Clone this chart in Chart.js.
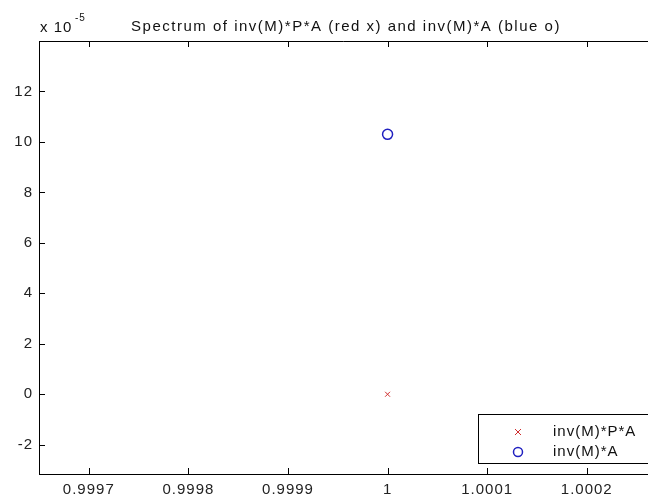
<!DOCTYPE html>
<html><head><meta charset="utf-8">
<script src="https://cdn.jsdelivr.net/npm/chart.js@4/dist/chart.umd.min.js"></script>
<style>html,body{margin:0;padding:0;background:#fff;overflow:hidden;width:648px;height:501px}#wrap{width:655px;height:501px}</style>
</head><body><div id="wrap"><canvas id="c" width="655" height="501"></canvas></div>
<script>
const titleText = "Spectrum of inv(M)*P*A (red x) and inv(M)*A (blue o)";
const seriesNames = ["inv(M)*P*A", "inv(M)*A"];
const redX = [1.0];
const redY = [0.0];
const blueX = [1.0];
const blueY = [10.3];
const xTicks = [0.9997, 0.9998, 0.9999, 1.0, 1.0001, 1.0002];
const xTickLabels = ["0.9997", "0.9998", "0.9999", "1", "1.0001", "1.0002"];
const yTicks = [-2, 0, 2, 4, 6, 8, 10, 12];
const yTickLabels = ["-2", "0", "2", "4", "6", "8", "10", "12"];
const expLabel = ["x 10", "-5"];

const FONT = "Liberation Sans, Arial, sans-serif";
const RED = "#d03030", BLUE = "#2020c0";

const deco = {
  id: 'deco',
  beforeDraw(chart) { chart.ctx.letterSpacing = '1px'; },
  afterDraw(chart) {
    const ctx = chart.ctx, a = chart.chartArea;
    const xs = chart.scales.x, ys = chart.scales.y;
    ctx.save();
    ctx.strokeStyle = '#000'; ctx.lineWidth = 1;
    ctx.beginPath(); ctx.moveTo(a.left, a.top + 0.5); ctx.lineTo(a.right, a.top + 0.5); ctx.stroke();
    ctx.beginPath();
    xTicks.forEach(v => { const p = Math.round(xs.getPixelForValue(v)) + 0.5;
      ctx.moveTo(p, a.bottom); ctx.lineTo(p, a.bottom - 6);
      ctx.moveTo(p, a.top); ctx.lineTo(p, a.top + 6); });
    yTicks.forEach(v => { const p = Math.round(ys.getPixelForValue(v)) + 0.5;
      ctx.moveTo(a.left, p); ctx.lineTo(a.left + 6, p); });
    ctx.stroke();
    ctx.fillStyle = '#111'; ctx.font = '15px ' + FONT;
    ctx.letterSpacing = '1.5px';
    ctx.textAlign = 'center'; ctx.textBaseline = 'middle';
    ctx.fillText(titleText, 346, 27);
    ctx.letterSpacing = '1px';
    ctx.textAlign = 'left';
    ctx.fillText(expLabel[0], 40, 28);
    ctx.font = '10px ' + FONT;
    ctx.fillText(expLabel[1], 75, 18);
    const bx = 478, by = 414, bw = 200, bh = 49;
    ctx.fillStyle = '#fff'; ctx.fillRect(bx, by, bw, bh);
    ctx.strokeStyle = '#000'; ctx.strokeRect(bx + 0.5, by + 0.5, bw, bh);
    ctx.font = '15px ' + FONT; ctx.fillStyle = '#111'; ctx.textBaseline = 'middle';
    const rows = [432, 452];
    ctx.strokeStyle = RED; ctx.lineWidth = 1;
    ctx.beginPath(); ctx.moveTo(515, rows[0] - 3); ctx.lineTo(521, rows[0] + 3);
    ctx.moveTo(521, rows[0] - 3); ctx.lineTo(515, rows[0] + 3); ctx.stroke();
    ctx.strokeStyle = BLUE; ctx.lineWidth = 1.5;
    ctx.beginPath(); ctx.arc(518, rows[1], 4.5, 0, Math.PI * 2); ctx.stroke();
    ctx.fillText(seriesNames[0], 553, rows[0]);
    ctx.fillText(seriesNames[1], 553, rows[1]);
    ctx.restore();
    ctx.letterSpacing = '0px';
  }
};

new Chart(document.getElementById('c'), {
  type: 'scatter',
  data: {
    datasets: [
      { label: seriesNames[0], data: redX.map((x, i) => ({x, y: redY[i]})),
        pointStyle: 'crossRot', pointRadius: 3.5, borderColor: RED, borderWidth: 1, backgroundColor: RED },
      { label: seriesNames[1], data: blueX.map((x, i) => ({x, y: blueY[i]})),
        pointStyle: 'circle', pointRadius: 5, borderColor: BLUE, borderWidth: 1.5, backgroundColor: 'rgba(0,0,0,0)' }
    ]
  },
  options: {
    responsive: false, animation: false,
    layout: { padding: { top: 41, right: 0, left: 0, bottom: 0 } },
    plugins: { legend: { display: false }, tooltip: { enabled: false }, title: { display: false } },
    scales: {
      x: {
        type: 'linear', min: 0.99965, max: 1.000262,
        afterBuildTicks: s => { s.ticks = xTicks.map(v => ({value: v})); },
        afterFit: s => { s.height = 27; s.paddingRight = 0; s.paddingLeft = 0; },
        grid: { display: true, drawOnChartArea: false, drawTicks: false },
        border: { display: true, color: '#000', width: 1 },
        ticks: { padding: 7, color: '#222', font: { family: FONT, size: 15 },
          maxRotation: 0, autoSkip: false,
          callback: (v) => { const i = xTicks.indexOf(v); return i >= 0 ? xTickLabels[i] : ''; } }
      },
      y: {
        type: 'linear', min: -3.16, max: 14,
        afterBuildTicks: s => { s.ticks = yTicks.map(v => ({value: v})); },
        afterFit: s => { s.width = 39; s.paddingTop = 0; s.paddingBottom = 0; },
        grid: { display: true, drawOnChartArea: false, drawTicks: false },
        border: { display: true, color: '#000', width: 1 },
        ticks: { padding: 6, color: '#222', font: { family: FONT, size: 15 }, autoSkip: false,
          callback: (v) => { const i = yTicks.indexOf(v); return i >= 0 ? yTickLabels[i] : ''; } }
      }
    }
  },
  plugins: [deco]
});
</script></body></html>
